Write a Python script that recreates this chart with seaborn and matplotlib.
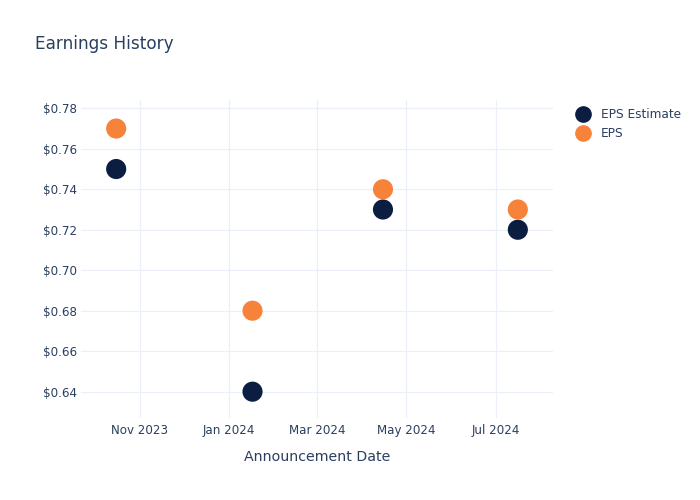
import matplotlib
matplotlib.use("Agg")
import matplotlib.pyplot as plt
import matplotlib.dates as mdates
import seaborn as sns
import pandas as pd
from matplotlib.lines import Line2D

dates = ["2023-10-16", "2024-01-17", "2024-04-15", "2024-07-16"]
eps_estimate = [0.75, 0.64, 0.73, 0.72]
eps_actual = [0.77, 0.68, 0.74, 0.73]
series_names = ["EPS Estimate", "EPS"]
colors = ["#0b1d40", "#f7833a"]
y_ticks = [0.64, 0.66, 0.68, 0.70, 0.72, 0.74, 0.76, 0.78]

df = pd.DataFrame({
    "date": pd.to_datetime(dates * 2),
    "value": eps_estimate + eps_actual,
    "series": [series_names[0]] * len(dates) + [series_names[1]] * len(dates),
})

sns.set_style("white")
plt.rcParams["font.family"] = ["DejaVu Sans"]
text_color = "#2a3f5f"
grid_color = "#ebf0f8"

fig = plt.figure(figsize=(7, 5), dpi=100)
ax = fig.add_axes([81 / 700, 1 - 418 / 500, (553 - 81) / 700, (418 - 100) / 500])

sns.scatterplot(data=df, x="date", y="value", hue="series", hue_order=series_names,
                palette=colors, s=210, edgecolor="none", linewidth=0, ax=ax,
                legend=False, zorder=3)

ax.set_xlim(pd.Timestamp("2023-09-22"), pd.Timestamp("2024-08-09"))
ax.set_ylim(0.627, 0.7841)
ax.xaxis.set_major_locator(mdates.MonthLocator(bymonth=[1, 3, 5, 7, 9, 11]))
ax.xaxis.set_major_formatter(mdates.DateFormatter("%b %Y"))
ax.set_yticks(y_ticks)
ax.set_yticklabels([f"${v:.2f}" for v in y_ticks])

ax.grid(True, color=grid_color, linewidth=0.9)
ax.set_axisbelow(True)
for sp in ax.spines.values():
    sp.set_visible(False)
ax.tick_params(axis="both", length=0, labelsize=8.6, colors=text_color)
ax.tick_params(axis="x", pad=4)
ax.tick_params(axis="y", pad=3)
ax.set_xlabel("Announcement Date", fontsize=10.2, color=text_color, labelpad=9.5)
ax.set_ylabel("")

fig.text(35 / 700, 1 - 44 / 500, "Earnings History", fontsize=12.2, color=text_color,
         va="center", ha="left")

handles = [Line2D([], [], marker="o", linestyle="none", markersize=11, color=c) for c in colors]
fig.legend(handles, series_names, loc="upper left", bbox_to_anchor=(568 / 700, 1 - 103 / 500),
           frameon=False, fontsize=8.7, labelcolor=text_color, handletextpad=0.75,
           labelspacing=0.55, borderaxespad=0, handlelength=1.6)

fig.savefig("out.png", dpi=100)
